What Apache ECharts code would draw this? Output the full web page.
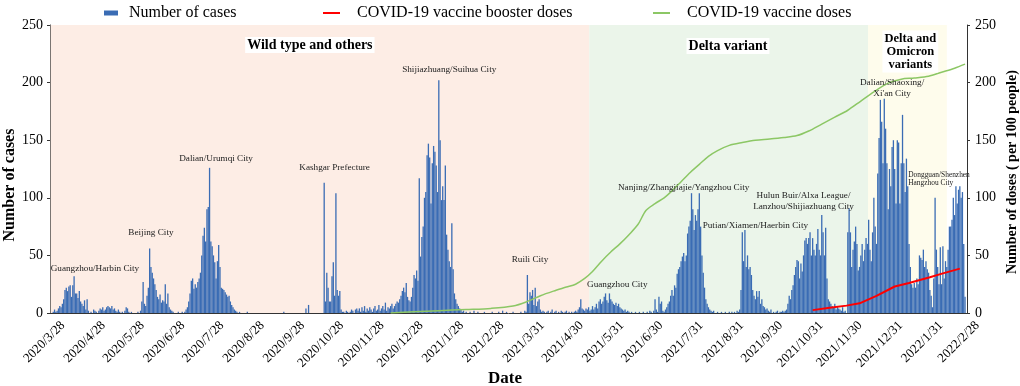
<!DOCTYPE html>
<html><head><meta charset="utf-8">
<script src="https://cdn.jsdelivr.net/npm/echarts@6/dist/echarts.min.js"></script>
<style>html,body{margin:0;padding:0;background:#fff}#c{width:1020px;height:386px}</style>
</head><body><div id="c"></div>
<script>
// ---------- DATA ----------
const startDate = [2020, 3, 28];
// daily new local cases, starting 2020/3/28
const cases2020MarApr = [0,0,1,3,1,2,4,6,5,8, 12,20,22,19,23,24,14,24,32,17, 17,13,19,10,8,6,11,3,12,2, 0];
const cases2020May = [1,0,3,2,1,0,2,4,3,5, 2,3,5,6,5,4,6,3,4,2, 1,3,1,0,1,0,2,5,4,1];
const cases2020Jun = [0,1,0,0,0,0,1,0,2,10, 27,8,6,15,22,56,40,35,30,25, 20,14,12,16,9,11,10,25,8,17, 5,3,2,1,0];
const cases2020Jul = [0,0,1,0,0, 1,0,1,3,5,10,17,28,30,21, 25,22,27,30,35,50,67,74,62,90, 92,126,62,58,50,44,30,45,59,40, 22,21,20,18,16,14,15,10,7,5, 3,2,1,0,1];
const cases2020AugOct = [0,0,0,0,0,1,0,0,0,0, 0,0,0,0,0,0,0,0,0,0, 0,0,0,0,0,0,0,0,0,0, 0,0,0,1,0,0,0,0,0,0, 0,0,0,0,0,0,0,0,0,0, 4,0,7,0,0,0,0,0,0,0, 0,0,0,0];
const cases2020Kashgar = [113,10,35,22,10,10,32,44,15,104, 20,15,19,3,1];
const cases2020NovDec = [1,0,2,1,0,1,3,2,0,3, 4,2,4,1,5,2,6,1,4,2, 5,3,1,4,6,2,3,7,2,4, 6,3,9,2,5,4,6,8];
const cases2020Dec = [4,6,8,10,9,12,15,19,22,18, 26,14,11,10,14,22,33,30,37,28];
const cases2021Jan = [117,49,66,75,100,105,137,147,135,95, 130,145,140,128,105,202,150,98,110,98, 128,68,55,45,40,78,38,17,12,8, 6,4,3,1,2,0,1,0];
const cases2021FebMar = [0,1,0,0,2,0,0,1,0,0, 0,0,1,0,0,0,0,0,1,0, 0,0,0,1,0,0,2,0,0,1, 0,0,0,0,1,0,0,0,0,0, 1,0,0,2,1];
const cases2021Apr = [33,8,18,15,20,7,22,6,10,12, 3,1,2,1,0,1,2,0,1,3, 0,1,2,0,1,0,2,1,0,1,2,0];
const cases2021May = [1,0,1,0,1,2,1,3,5,12, 4,3,2,4,3,5,2,3,6,3, 5,8,4,10,12,8,10,14,17,11, 9,17,12,10,8,7,9,6,8,5, 4,3,2,3,1,2,1,0,1,0];
const cases2021Jul = [0,1,0,0,1,0,0,1,0,0, 1,0,2,1,0,2,12,3,1,14, 8,10,2,1,3,5,8,10,15,20, 15,24,22,34,38,40,45,49,52,45, 50,69,75,80,104,90,72,85,80,90, 104,75,50,35,22,12,8,5,3,2,1,2,0];
const cases2021Sep = [0,1,0,0,1,0,0,1,0,0, 1,0,1,0,1,0,2,1,3,20, 70,45,72,40,50,38,40,33,20,15, 12,19,14,19,8,12,6,5,3,4, 2,1,3,0,1,0,1,2,0,1];
const cases2021Oct = [1,2,1,2,3,8,15,12,20,24, 33,40,46,45,30,43,36,50,63,65, 60,65,70,50,65,55,50,60,73,55, 50,85,70,50,74,30,12,10,8,6, 5,8,3,6,4,3,2,5,1,2,0];
const cases2021Dec = [70,91,70,40,55,62,75,60,37,40, 50,60,45,55,65,60,81,55,45,70, 100,75,60,121,152,185,166,130,186,160, 130,90,125,110,144,150,125,95,150,148, 95,130,172,130,105,134,110,60,40,25,22];
const cases2022JanFeb = [26,22,30,25,50,48,46,55,40,45, 38,35,20,15,5,30,100,55,40,25, 57,25,58,30,45,40,55,75,75,81, 100,85,110,95,107,110,100,105,60,14,0];

const tickLabels = ['2020/3/28','2020/4/28','2020/5/28','2020/6/28','2020/7/28','2020/8/28','2020/9/28','2020/10/28','2020/11/28','2020/12/28','2021/1/28','2021/2/28','2021/3/31','2021/4/30','2021/5/31','2021/6/30','2021/7/31','2021/8/31','2021/9/30','2021/10/31','2021/11/30','2021/12/31','2022/1/31','2022/2/28'];

// COVID-19 vaccine doses per 100 people
const dosesDates = ['2020/12/14','2021/1/1','2021/1/20','2021/2/10','2021/3/1','2021/3/18','2021/3/28','2021/4/8','2021/4/18','2021/4/28','2021/5/5','2021/5/12','2021/5/18','2021/5/25','2021/6/1','2021/6/8','2021/6/15','2021/6/22','2021/6/28','2021/7/5','2021/7/12','2021/7/18','2021/7/25','2021/8/1','2021/8/8','2021/8/15','2021/8/22','2021/8/31','2021/9/10','2021/9/20','2021/10/1','2021/10/12','2021/10/22','2021/10/31','2021/11/10','2021/11/20','2021/11/30','2021/12/10','2021/12/20','2021/12/31','2022/1/10','2022/1/20','2022/1/31','2022/2/10','2022/2/20','2022/2/28'];
const dosesValues = [0,1,2,3,4,6,9.5,15,19,22.5,25,30,36,45,53,60,68,77,89,95,100,106,114,122,129,136,141,145.5,148,150,151,152.3,154,158,164,170,176,184,192,199.5,203,204,205.5,209,212.5,216];

// COVID-19 vaccine booster doses per 100 people
const boosterDates = ['2021/11/3','2021/11/16','2021/11/29','2021/12/9','2021/12/22','2022/1/5','2022/1/16','2022/2/1','2022/2/11','2022/2/24'];
const boosterValues = [2.5,4.6,6.4,8.4,14.8,23,26,31,34.4,38.5];

// variant periods
const periodNames = ['Wild type and others','Delta variant','Delta and\nOmicron\nvariants'];
const periodStarts = ['2020/3/28','2021/5/17','2021/12/12'];
const periodEnds = ['2021/5/17','2021/12/12','2022/3/1'];
const periodLabelDates = ['2020/10/13','2021/8/30','2022/1/17'];
const periodLabelValues = [232.6,231.8,227];

// outbreak annotations
const noteTexts = ['Guangzhou/Harbin City','Beijing City','Dalian/Urumqi City','Kashgar Prefecture','Shijiazhuang/Suihua City','Ruili City','Guangzhou City','Nanjing/Zhangjiajie/Yangzhou City','Putian/Xiamen/Haerbin City','Hulun Buir/Alxa League/\nLanzhou/Shijiazhuang City','Dalian/Shaoxing/\nXi\'an City','Dongguan/Shenzhen\nHangzhou City'];
const noteDates = ['2020/5/1','2020/6/13','2020/8/2','2020/11/1','2021/1/28','2021/3/31','2021/6/6','2021/7/27','2021/9/20','2021/10/27','2022/1/3','2022/1/15'];
const noteValues = [38.5,69.7,133.7,126,211,46,25,109,75.5,97,195.3,116.3];

// ---------- BUILD ----------
const cases = [].concat(cases2020MarApr, cases2020May, cases2020Jun, cases2020Jul, cases2020AugOct, cases2020Kashgar, cases2020NovDec, cases2020Dec, cases2021Jan, cases2021FebMar, cases2021Apr, cases2021May, cases2021Jul, cases2021Sep, cases2021Oct, cases2021Dec, cases2022JanFeb);
const categories = [];
for (let i = 0; i < cases.length; i++) {
  const d = new Date(startDate[0], startDate[1] - 1, startDate[2] + i);
  categories.push(d.getFullYear() + '/' + (d.getMonth() + 1) + '/' + d.getDate());
}
const tickSet = new Set(tickLabels);
const FONT = "'Liberation Serif', 'Times New Roman', serif";
const bgColors = ['#fdede5', '#ebf5ea', '#fefcec'];

const markAreaData = periodNames.map((n, i) => [
  { xAxis: periodStarts[i], itemStyle: { color: bgColors[i] } },
  { xAxis: periodEnds[i] }
]);
const notePoints = noteTexts.map((t, i) => ({
  coord: [noteDates[i], noteValues[i]],
  label: i === noteTexts.length - 1
    ? { formatter: t, position: 'right', distance: 0, align: 'left', fontSize: 7.4, lineHeight: 8.5 }
    : { formatter: t }
}));
const periodPoints = periodNames.map((t, i) => ({
  coord: [periodLabelDates[i], periodLabelValues[i]],
  label: { formatter: t, fontWeight: 'bold', fontSize: i === 2 ? 12.5 : 14, lineHeight: 13, color: '#000', backgroundColor: '#fff', padding: [2, 2, 1, 2] }
}));

const chart = echarts.init(document.getElementById('c'), null, { renderer: 'canvas' });
const legendBase = { top: 0, textStyle: { fontFamily: FONT, fontSize: 16, color: '#000' }, selectedMode: false };
chart.setOption({
  animation: false,
  textStyle: { fontFamily: FONT },
  grid: { left: 50, right: 53, top: 25, bottom: 73 },
  legend: [
    Object.assign({}, legendBase, { left: 99, itemWidth: 14, itemHeight: 5, data: [{ name: 'Number of cases', icon: 'rect' }], textStyle: Object.assign({}, legendBase.textStyle, { padding: [0, 0, 0, 6] }) }),
    Object.assign({}, legendBase, { left: 318, itemWidth: 17, itemHeight: 2, data: [{ name: 'COVID-19 vaccine booster doses', icon: 'rect' }], textStyle: Object.assign({}, legendBase.textStyle, { padding: [0, 0, 0, 12] }) }),
    Object.assign({}, legendBase, { left: 648, itemWidth: 17, itemHeight: 2, data: [{ name: 'COVID-19 vaccine doses', icon: 'rect' }], textStyle: Object.assign({}, legendBase.textStyle, { padding: [0, 0, 0, 12] }) })
  ],
  xAxis: {
    type: 'category', data: categories, boundaryGap: true,
    axisLine: { lineStyle: { color: '#333', width: 1 } },
    axisTick: { alignWithLabel: true, interval: (i, v) => tickSet.has(v), length: 4, lineStyle: { color: '#333' } },
    axisLabel: { interval: (i, v) => tickSet.has(v), rotate: 45, fontSize: 13, color: '#000', fontFamily: FONT,
      margin: -2, verticalAlign: 'top', padding: [11, 0, 0, 0] },
    splitLine: { show: false }
  },
  yAxis: [
    { type: 'value', min: 0, max: 250, interval: 50, position: 'left',
      axisLine: { show: true, lineStyle: { color: '#333' } }, axisTick: { show: true, length: 3, lineStyle: { color: '#333' } },
      axisLabel: { fontSize: 14, color: '#000', fontFamily: FONT, margin: 7 }, splitLine: { show: false } },
    { type: 'value', min: 0, max: 250, interval: 50, position: 'right',
      axisLine: { show: true, lineStyle: { color: '#333' } }, axisTick: { show: true, length: 3, lineStyle: { color: '#333' } },
      axisLabel: { fontSize: 14, color: '#000', fontFamily: FONT, margin: 8 }, splitLine: { show: false } }
  ],
  graphic: [
    { type: 'text', x: 10, y: 185, rotation: Math.PI / 2, style: { text: 'Number of cases', font: "bold 16px " + FONT, fill: '#000', textAlign: 'center', textVerticalAlign: 'middle' } },
    { type: 'text', x: 1012, y: 172, rotation: Math.PI / 2, style: { text: 'Number of doses ( per 100 people)', font: "bold 14px " + FONT, fill: '#000', textAlign: 'center', textVerticalAlign: 'middle' } },
    { type: 'text', x: 505, y: 379, style: { text: 'Date', font: "bold 17px " + FONT, fill: '#000', textAlign: 'center', textVerticalAlign: 'middle' } }
  ],
  series: [
    { name: 'Number of cases', type: 'bar', data: cases, barCategoryGap: '0%',
      itemStyle: { color: '#3a6cb4' }, emphasis: { disabled: true },
      markArea: { silent: true, data: markAreaData },
      markPoint: { silent: true, symbol: 'rect', symbolSize: 1, itemStyle: { color: 'rgba(0,0,0,0)' },
        label: { show: true, position: 'inside', color: '#222', fontSize: 9.2, lineHeight: 10.5, fontFamily: FONT },
        data: notePoints.concat(periodPoints) } },
    { name: 'COVID-19 vaccine booster doses', type: 'line', yAxisIndex: 1, showSymbol: false, symbol: 'none',
      data: boosterDates.map((d, i) => [d, boosterValues[i]]),
      lineStyle: { color: '#ff0000', width: 2 }, itemStyle: { color: '#ff0000' }, z: 4 },
    { name: 'COVID-19 vaccine doses', type: 'line', yAxisIndex: 1, showSymbol: false, symbol: 'none', smooth: 0.3,
      data: dosesDates.map((d, i) => [d, dosesValues[i]]),
      lineStyle: { color: '#8cc765', width: 1.5 }, itemStyle: { color: '#8cc765' }, z: 4 }
  ]
});
</script></body></html>
